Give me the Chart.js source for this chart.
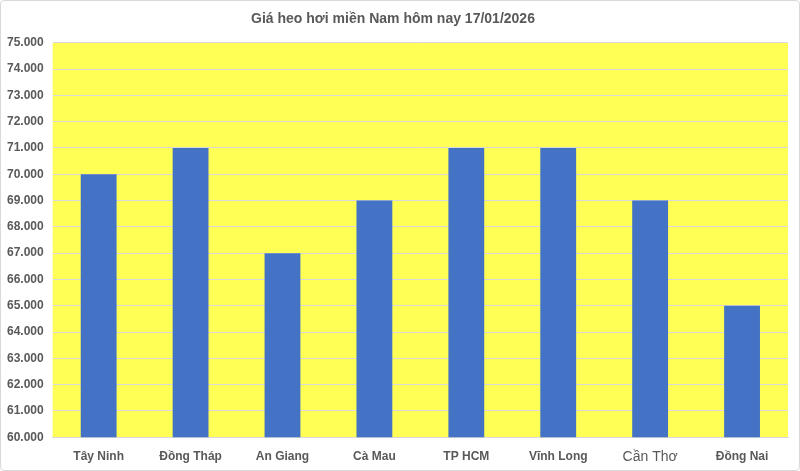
<!DOCTYPE html>
<html>
<head>
<meta charset="utf-8">
<script src="https://cdn.jsdelivr.net/npm/chart.js@4"></script>
<style>
  body { margin: 0; background: #fff; }
  #wrap { position: relative; width: 798px; height: 469px; border: 1px solid #d9d9d9; border-radius: 4px; background: #fff; }
</style>
</head>
<body>
<div id="wrap"><canvas id="chartId"></canvas></div>
<script>
const provinces = ['Tây Ninh', 'Đồng Tháp', 'An Giang', 'Cà Mau', 'TP HCM', 'Vĩnh Long', 'Cần Thơ', 'Đồng Nai'];
const prices = [70000, 71000, 67000, 69000, 71000, 71000, 69000, 65000];
const yMin = 60000;
const yMax = 75000;
const yStep = 1000;

// yellow plot area like the excel chart
const plotBg = {
  id: 'plotBg',
  beforeDraw(chart) {
    const a = chart.chartArea;
    const c = chart.ctx;
    c.save();
    c.fillStyle = '#ffff55';
    c.fillRect(a.left, a.top, a.right - a.left, a.bottom - a.top);
    c.restore();
  }
};

function fmt(v) {
  const k = Math.floor(v / 1000);
  const r = String(v % 1000).padStart(3, '0');
  return k + '.' + r;
}

const ctx = document.getElementById('chartId').getContext('2d');
new Chart(ctx, {
  type: 'bar',
  data: {
    labels: provinces,
    datasets: [{
      data: prices,
      backgroundColor: '#4472c4',
      barPercentage: 0.39,
      categoryPercentage: 1
    }]
  },
  options: {
    responsive: true,
    maintainAspectRatio: false,
    animation: false,
    layout: { padding: { left: -3, right: 11, top: 6, bottom: 0 } },
    plugins: {
      legend: { display: false },
      tooltip: { enabled: false },
      title: {
        display: true,
        text: 'Giá heo hơi miền Nam hôm nay 17/01/2026',
        color: '#595959',
        font: { family: 'Liberation Sans', size: 14, weight: 'bold' },
        padding: { top: 4, bottom: 15 }
      }
    },
    scales: {
      x: {
        grid: { display: false },
        border: { color: '#d9d9d9' },
        ticks: {
          color: '#595959',
          padding: 4,
          font: function(c) {
            if (c.index === 6) return { family: 'Liberation Sans', size: 14, weight: 'normal' };
            return { family: 'Liberation Sans', size: 12, weight: 'bold' };
          }
        }
      },
      y: {
        min: yMin,
        max: yMax,
        grid: { color: '#d9d9d9', drawTicks: false },
        border: { display: false },
        ticks: {
          stepSize: yStep,
          color: '#595959',
          padding: 9,
          font: { family: 'Liberation Sans', size: 12, weight: 'bold' },
          callback: function(v) { return fmt(v); }
        }
      }
    }
  },
  plugins: [plotBg]
});
</script>
</body>
</html>
